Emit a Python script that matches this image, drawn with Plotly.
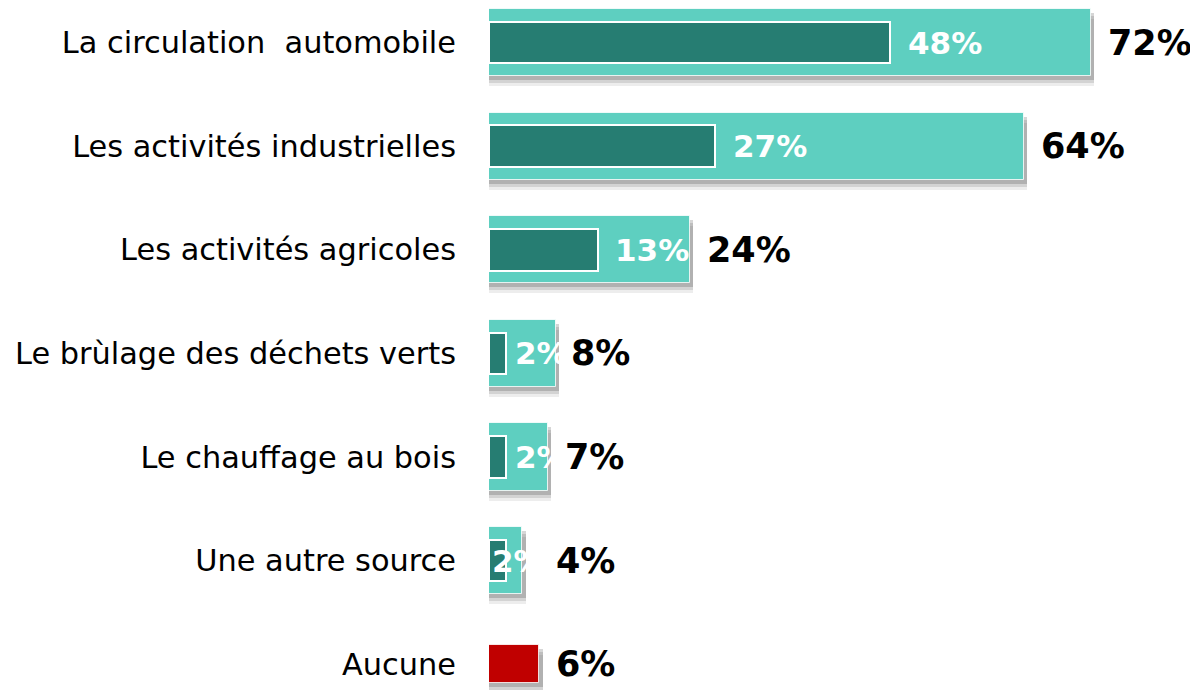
import plotly.graph_objects as go

# ---- data ----
categories = [
    "La circulation\u00a0 automobile",
    "Les activités industrielles",
    "Les activités agricoles",
    "Le brùlage des déchets verts",
    "Le chauffage au bois",
    "Une autre source",
    "Aucune",
]
total_values = [72, 64, 24, 8, 7, 4, 6]
inner_values = [48, 27, 13, 2, 2, 2, None]

# ---- style ----
LIGHT = "#5ECFC0"
DARK = "#267D72"
RED = "#C00000"
ROW_PX = 103.6
FIRST_ROW_PX = 34.6      # centre of first row from top of figure
FIG_W, FIG_H = 1190, 682  # page body has an 8px default margin
OUTER_W = 0.65
INNER_W = 0.40
AUCUNE_W = 0.37
inner_label_shift = [16, 16, 15, 7, 7, -16]
outer_label_shift = [15, 15, 15, 13, 15, 32, 15]

n = len(categories)
outer_widths = [OUTER_W] * (n - 1) + [AUCUNE_W]
outer_colors = [LIGHT] * (n - 1) + [RED]

fig = go.Figure()

# drop shadows
for shift_px, alpha in [(10, 0.07), (7, 0.11), (4, 0.16)]:
    fig.add_trace(go.Bar(
        y=categories, x=[v + 0.4 for v in total_values], orientation="h",
        width=outer_widths,
        offset=[-w / 2 + shift_px / ROW_PX for w in outer_widths],
        marker=dict(color=f"rgba(0,0,0,{alpha})", line=dict(width=0)),
        hoverinfo="skip", showlegend=False,
    ))

fig.add_trace(go.Bar(
    y=categories, x=total_values, orientation="h",
    width=outer_widths, offset=[-w / 2 for w in outer_widths],
    marker=dict(color=outer_colors, line=dict(color="rgba(255,255,255,0.8)", width=1)),
    showlegend=False,
))
fig.add_trace(go.Bar(
    y=categories[:-1], x=inner_values[:-1], orientation="h",
    width=INNER_W, offset=-INNER_W / 2,
    marker=dict(color=DARK, line=dict(color="white", width=2)),
    showlegend=False,
))

annotations = []
for i, v in enumerate(inner_values):
    if v is None:
        continue
    annotations.append(dict(
        x=v, y=categories[i], xref="x", yref="y", xanchor="left", yanchor="middle",
        xshift=inner_label_shift[i], text=f"<b>{v}%</b>", showarrow=False,
        font=dict(family="DejaVu Sans", size=31, color="white"),
    ))
for i, v in enumerate(total_values):
    annotations.append(dict(
        x=v, y=categories[i], xref="x", yref="y", xanchor="left", yanchor="middle",
        xshift=outer_label_shift[i], text=f"<b>{v}%</b>", showarrow=False,
        font=dict(family="DejaVu Sans", size=35, color="black"),
    ))

fig.update_layout(
    width=FIG_W, height=FIG_H,
    margin=dict(l=481, r=0, t=0, b=0),
    paper_bgcolor="white", plot_bgcolor="white",
    barmode="overlay", bargap=0,
    annotations=annotations,
    xaxis=dict(range=[0, (FIG_W - 481) / 8.36], visible=False, fixedrange=True),
    yaxis=dict(
        type="category", categoryorder="array", categoryarray=categories,
        range=[(FIG_H - FIRST_ROW_PX) / ROW_PX, -FIRST_ROW_PX / ROW_PX],
        showgrid=False, zeroline=False, showline=False, ticks="",
        ticklabelstandoff=32,
        tickfont=dict(family="DejaVu Sans", size=30.4, color="black"),
    ),
)

fig.write_html("out.html")
